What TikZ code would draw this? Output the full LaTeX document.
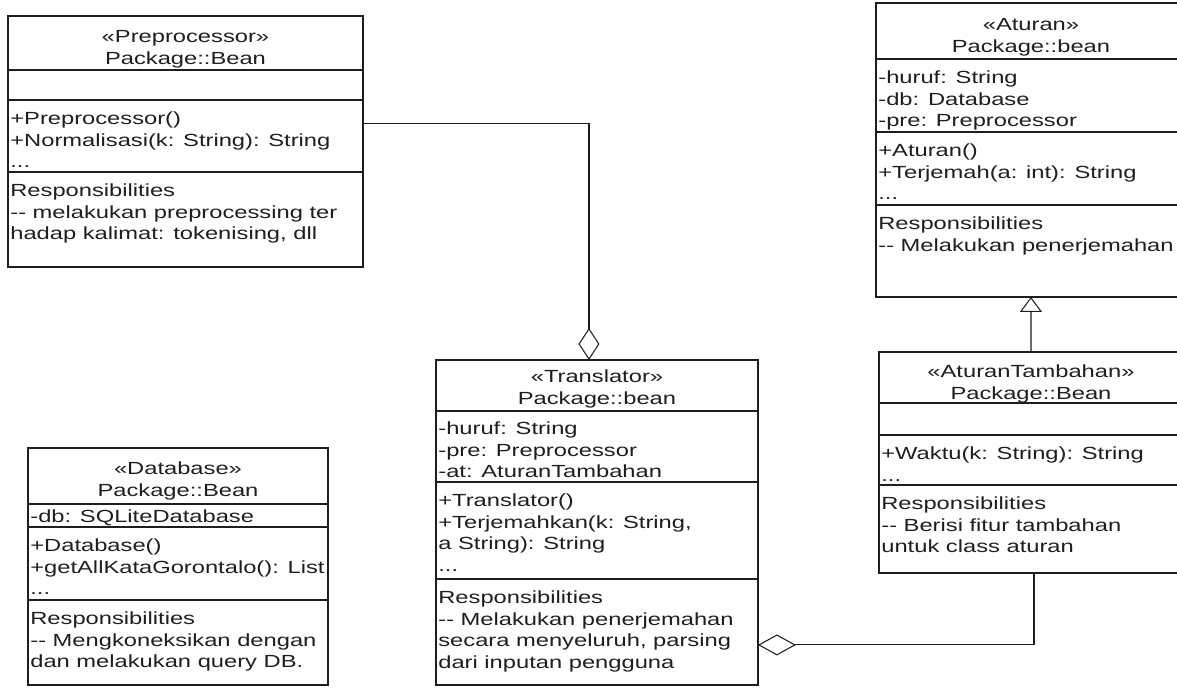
\documentclass[tikz,border=0pt]{standalone}
\usepackage{fontspec}
\newfontfamily\umlfont{Liberation Sans}[FakeStretch=1.35]
\usetikzlibrary{arrows.meta}
\definecolor{ink}{HTML}{1E1E1E}

\begin{document}
\begin{tikzpicture}[x=0.02cm,y=-0.02cm,
  classbox/.style={draw=ink,line width=0.7pt,anchor=north west,inner sep=0pt,outer sep=0pt},
  compline/.style={draw=ink,line width=0.7pt},
  classtitle/.style={anchor=north,align=center,inner sep=0pt,text=ink,
    font=\umlfont\fontsize{10}{12.35}\selectfont},
  classtext/.style={anchor=north west,align=left,inner sep=0pt,text=ink,
    font=\umlfont\fontsize{10}{12.35}\selectfont},
  aggr/.style={draw=ink,line width=0.6pt,-{Diamond[open,length=#1,width=0.42cm]}},
  inherit/.style={draw=ink,line width=0.6pt,-{Triangle[open,length=0.3cm,width=0.44cm]}}]
  \clip (0,0) rectangle (1177,688);

  % Preprocessor
  \node[classbox,minimum width=7.1cm,minimum height=5.02cm] (pre) at (8,16) {};
  \foreach \y in {70,100,172} \draw[compline] (pre.west |- 0,\y) -- (pre.east |- 0,\y);
  \node[classtitle] (pre-name) at (pre.north |- 0,30.5) {«Preprocessor»\\Package::Bean};
  \node[classtext] (pre-ops) at (10,111.5) {+Preprocessor()\\+Normalisasi(k: String): String\\...};
  \node[classtext] (pre-resp) at (10,183.5)
    {Responsibilities\\-{}- melakukan preprocessing ter\\hadap kalimat: tokenising, dll};

  % Aturan
  \node[classbox,minimum width=6.2cm,minimum height=5.88cm] (atr) at (876,3) {};
  \foreach \y in {59,132,205} \draw[compline] (atr.west |- 0,\y) -- (atr.east |- 0,\y);
  \node[classtitle] (atr-name) at (atr.north |- 0,18.5) {«Aturan»\\Package::bean};
  \node[classtext] (atr-attr) at (878,70.5) {-huruf: String\\-db: Database\\-pre: Preprocessor};
  \node[classtext] (atr-ops) at (878,143.5) {+Aturan()\\+Terjemah(a: int): String\\...};
  \node[classtext] (atr-resp) at (878,216.5) {Responsibilities\\-{}- Melakukan penerjemahan};

  % AturanTambahan
  \node[classbox,minimum width=6.08cm,minimum height=4.42cm] (atb) at (879,352) {};
  \foreach \y in {403,435,485} \draw[compline] (atb.west |- 0,\y) -- (atb.east |- 0,\y);
  \node[classtitle] (atb-name) at (atb.north |- 0,364.5) {«AturanTambahan»\\Package::Bean};
  \node[classtext] (atb-ops) at (881,446.5) {+Waktu(k: String): String\\...};
  \node[classtext] (atb-resp) at (881,496.5)
    {Responsibilities\\-{}- Berisi fitur tambahan\\untuk class aturan};

  % Translator
  \node[classbox,minimum width=6.44cm,minimum height=6.5cm] (trans) at (436,360) {};
  \foreach \y in {411,482,579} \draw[compline] (trans.west |- 0,\y) -- (trans.east |- 0,\y);
  \node[classtitle] (trans-name) at (trans.north |- 0,369.5) {«Translator»\\Package::bean};
  \node[classtext] (trans-attr) at (438,421.5)
    {-huruf: String\\-pre: Preprocessor\\-at: AturanTambahan};
  \node[classtext] (trans-ops) at (438,493.5)
    {+Translator()\\+Terjemahkan(k: String,\\a String): String\\...};
  \node[classtext] (trans-resp) at (438,590.5)
    {Responsibilities\\-{}- Melakukan penerjemahan\\secara menyeluruh, parsing\\dari inputan pengguna};

  % Database
  \node[classbox,minimum width=6cm,minimum height=4.74cm] (db) at (28,448) {};
  \foreach \y in {504,527,600} \draw[compline] (db.west |- 0,\y) -- (db.east |- 0,\y);
  \node[classtitle] (db-name) at (db.north |- 0,461.5) {«Database»\\Package::Bean};
  \node[classtext] (db-attr) at (30,509.5) {-db: SQLiteDatabase};
  \node[classtext] (db-ops) at (30,538.5) {+Database()\\+getAllKataGorontalo(): List\\...};
  \node[classtext] (db-resp) at (30,611.5)
    {Responsibilities\\-{}- Mengkoneksikan dengan\\dan melakukan query DB.};

  % relations
  \draw[aggr=0.64cm] ([yshift=0.35cm]pre.east) -| ([xshift=-0.16cm]trans.north);
  \draw[inherit] (atb.north) -- (atr.south);
  \draw[aggr=0.76cm] ([xshift=0.06cm]atb.south) |- ([yshift=0.8cm]trans.south east);
\end{tikzpicture}
\end{document}
